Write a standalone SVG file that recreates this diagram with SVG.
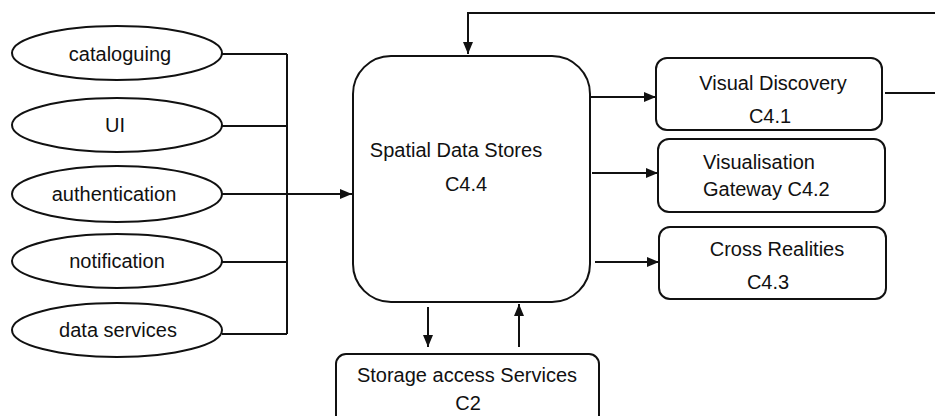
<svg xmlns="http://www.w3.org/2000/svg" width="935" height="416" viewBox="0 0 935 416">
<style>
.s{fill:#fff;stroke:#111;stroke-width:2}
.t{font-family:"Liberation Sans",Arial,sans-serif;font-size:20px;fill:#111}
.c{text-anchor:middle}
.ln{fill:none;stroke:#111;stroke-width:2}
</style>
<defs>
<marker id="ah" viewBox="0 0 12 10" refX="12" refY="5" markerWidth="12" markerHeight="10" markerUnits="userSpaceOnUse" orient="auto">
<path d="M0,0 L12,5 L0,10 Z" fill="#111"/>
</marker>
</defs>
<rect width="935" height="416" fill="#fff"/>
<g id="connectors">
<path class="ln" d="M222,54 H287 M222,126 H287 M222,262 H287 M222,334 H287 M287,54 V334"/>
<path class="ln" d="M222,194 H352" marker-end="url(#ah)"/>
<path class="ln" d="M591,97 H656" marker-end="url(#ah)"/>
<path class="ln" d="M592,173 H658" marker-end="url(#ah)"/>
<path class="ln" d="M595,262 H659" marker-end="url(#ah)"/>
<path class="ln" d="M428,307 V347" marker-end="url(#ah)"/>
<path class="ln" d="M519,347 V304" marker-end="url(#ah)"/>
<path class="ln" d="M935,13 H468 V54" marker-end="url(#ah)"/>
<path class="ln" d="M885,93 H935"/>
</g>
<g id="cataloguing"><ellipse class="s" cx="117" cy="53" rx="105" ry="27"/><text class="t c" x="120" y="61">cataloguing</text></g>
<g id="ui"><ellipse class="s" cx="117" cy="125" rx="105" ry="27"/><text class="t c" x="115" y="132">UI</text></g>
<g id="authentication"><ellipse class="s" cx="117" cy="194" rx="105" ry="28"/><text class="t c" x="114" y="201">authentication</text></g>
<g id="notification"><ellipse class="s" cx="117" cy="261" rx="105" ry="27"/><text class="t c" x="117" y="268">notification</text></g>
<g id="data-services"><ellipse class="s" cx="117" cy="330" rx="105" ry="27"/><text class="t c" x="118" y="337">data services</text></g>
<g id="spatial-data-stores"><rect class="s" x="353" y="56" width="237" height="246" rx="38" ry="38"/><text class="t c" x="456" y="157">Spatial Data Stores</text><text class="t c" x="466" y="191">C4.4</text></g>
<g id="visual-discovery"><rect class="s" x="656" y="58" width="226" height="72" rx="11" ry="11"/><text class="t c" x="773" y="90">Visual Discovery</text><text class="t c" x="770" y="123">C4.1</text></g>
<g id="visualisation-gateway"><rect class="s" x="658" y="139" width="227" height="73" rx="11" ry="11"/><text class="t" x="703" y="169">Visualisation</text><text class="t" x="703" y="196">Gateway C4.2</text></g>
<g id="cross-realities"><rect class="s" x="659" y="227" width="227" height="72" rx="11" ry="11"/><text class="t c" x="777" y="256">Cross Realities</text><text class="t c" x="768" y="289">C4.3</text></g>
<g id="storage-access"><rect class="s" x="336" y="354" width="263" height="72" rx="10" ry="10"/><text class="t c" x="467" y="382">Storage access Services</text><text class="t c" x="468" y="410">C2</text></g>
</svg>
